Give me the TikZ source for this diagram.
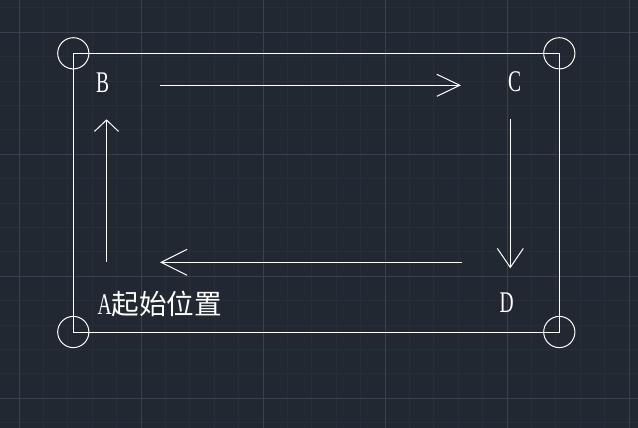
\documentclass[tikz,border=0pt]{standalone}
\usepackage{fontspec}
\newfontfamily\cadfont[FakeStretch=0.65]{Liberation Serif}
\newfontfamily\cjk[Scale=0.92]{Noto Sans CJK SC}
\usetikzlibrary{arrows.meta}
\definecolor{cadbg}{RGB}{33,40,49}
\definecolor{cadminor}{RGB}{39,46,57}
\definecolor{cadmajor}{RGB}{58,64,80}

\begin{document}
\begin{tikzpicture}[x=1pt, y=-1pt,
    minorline/.style={draw=cadminor, line width=1pt},
    majorline/.style={draw=cadmajor, line width=1pt},
    outline/.style={draw=white, line width=1pt},
    cornerring/.style={draw=white, line width=1pt},
    lbl/.style={text=white, font=\cadfont\fontsize{30}{30}\selectfont, inner sep=0pt, anchor=base},
    flow/.style 2 args={draw=white, line width=1pt, -{Straight Barb[length=#1pt, width=#2pt]}}
]
\useasboundingbox (0,0) rectangle (638,428);
\fill[cadbg] (0,0) rectangle (638,428);

% grid
\foreach \i in {0,...,26}
    \draw[minorline] ({-5.4+24.4*\i},0) -- ({-5.4+24.4*\i},428);
\foreach \i in {0,...,17}
    \draw[minorline] (0,{7.9+24.4*\i}) -- (638,{7.9+24.4*\i});
\foreach \i in {0,...,5}
    \draw[majorline] ({19+122*\i},0) -- ({19+122*\i},428);
\foreach \i in {0,...,3}
    \draw[majorline] (0,{32.3+122*\i}) -- (638,{32.3+122*\i});

% frame and corner rings
\coordinate (tl) at (73.3,53.3);
\coordinate (tr) at (559.3,53.3);
\coordinate (br) at (559.3,332);
\coordinate (bl) at (73.3,332);
\draw[outline] (tl) -- (tr) -- (br) -- (bl) -- cycle;
\foreach \c in {tl,tr,br,bl}
    \draw[cornerring] (\c) circle[radius=15.6];

% labels
\node[lbl] (labB) at (102.7,92.7) {B};
\node[lbl] (labC) at (514.7,91.7) {C};
\node[lbl] (labD) at (506.7,312.7) {D};
\node[lbl, anchor=base west] (labA) at (97.5,314) {A{\cjk 起始位置}};

% moves
\coordinate (bcS) at (160,85.3);
\coordinate (bcE) at (461,85.3);
\coordinate (cdS) at (510.3,119);
\coordinate (cdE) at (510.3,268.3);
\coordinate (daS) at (461.7,262.3);
\coordinate (daE) at (160,262.3);
\coordinate (abS) at (106.5,261.7);
\coordinate (abE) at (106.5,119.3);
\draw[flow={23}{22}] (bcS) -- (bcE);
\draw[flow={19}{26}] (cdS) -- (cdE);
\draw[flow={26}{26}] (daS) -- (daE);
\draw[flow={11.4}{24}] (abS) -- (abE);
\end{tikzpicture}
\end{document}
